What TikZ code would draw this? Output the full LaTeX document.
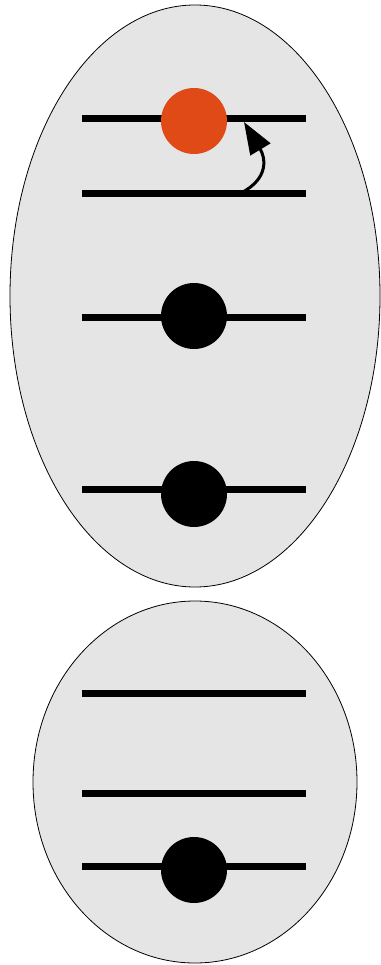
\documentclass[tikz,border=0pt]{standalone}
\usetikzlibrary{arrows.meta}
\definecolor{shell}{HTML}{E5E5E5}
\definecolor{excited}{HTML}{DF4A16}
\tikzset{
  shellbox/.style={draw=black, line width=0.8pt, fill=shell},
  level/.style={line width=7pt, black},
  electron/.style={circle, minimum size=66pt, inner sep=0pt, fill=black},
  hot/.style={electron, fill=excited},
  jump/.style={line width=3pt, -{Triangle[length=32pt,width=23pt]}}
}
\begin{document}
\begin{tikzpicture}[x=1pt,y=-1pt]
\useasboundingbox (0,0) rectangle (380,965);
% shells
\draw[shellbox] (195,296) ellipse [x radius=185, y radius=291];
\draw[shellbox] (195,782) ellipse [x radius=162, y radius=181];
% levels
\foreach \n/\y in {a/119,b/194,c/317,d/489,e/693,f/793,g/866}{
  \coordinate (\n L) at (82,\y);
  \coordinate (\n R) at (306,\y);
  \draw[level] (\n L) -- (\n R);
}
% electrons
\node[hot] (e1) at (194,121) {};
\node[electron] (e2) at (194,316) {};
\node[electron] (e3) at (194,494) {};
\node[electron] (e4) at (194,870) {};
% excitation arrow
\coordinate (from) at (241,193);
\coordinate (to) at (244,122);
\draw[jump] (from) .. controls (270,178) and (265,157) .. (to);
\end{tikzpicture}
\end{document}
